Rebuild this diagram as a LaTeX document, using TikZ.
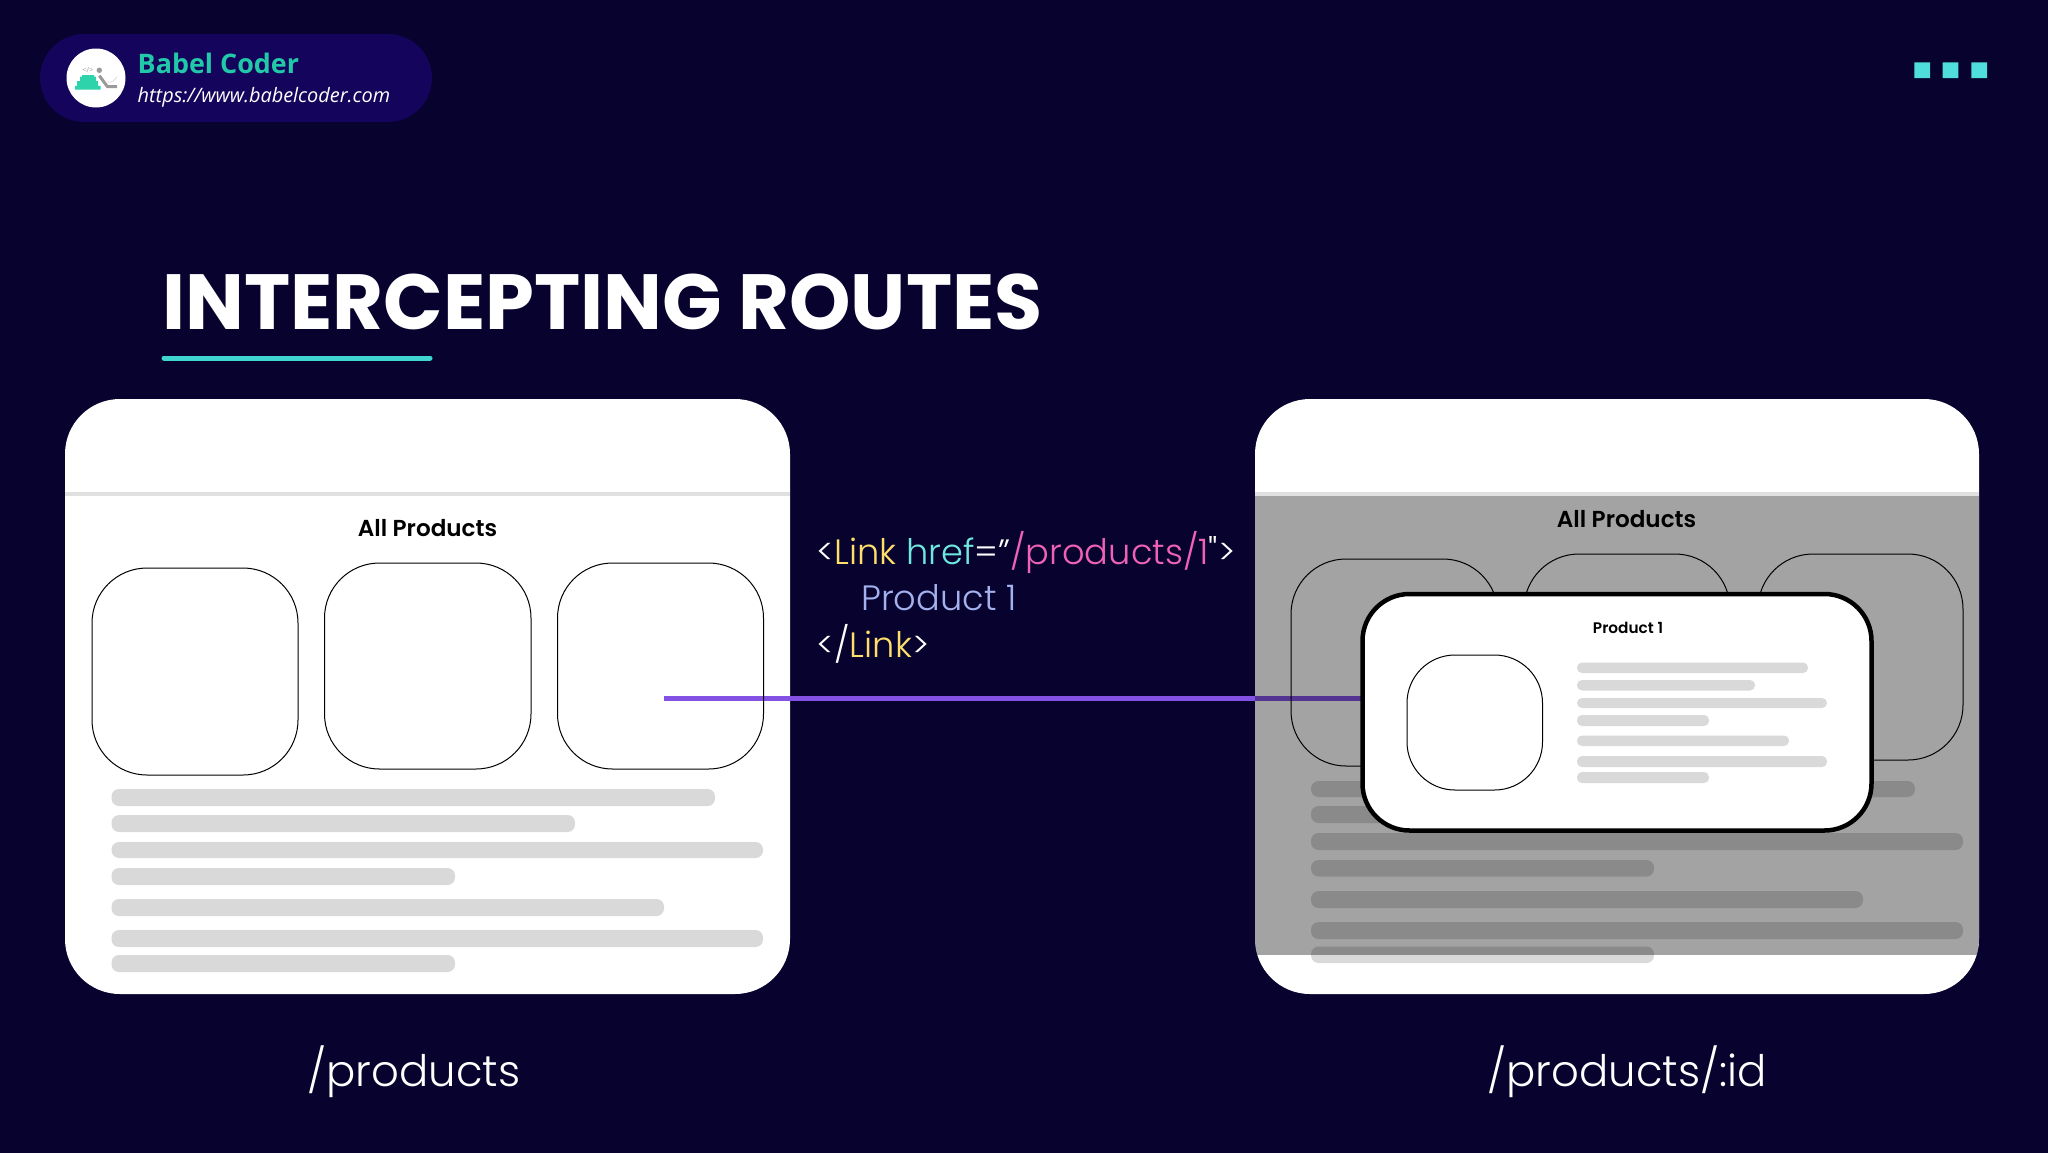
\documentclass[tikz,border=0pt]{standalone}
\usepackage{fontspec}
\setmainfont{Poppins}
\newfontfamily\poplight{Poppins Light}
\newfontfamily\popsemi{Poppins SemiBold}
\newfontfamily\popbold{Poppins}[UprightFont=* Bold]
\newfontfamily\opens{Open Sans}
\definecolor{bgnavy}{HTML}{07022E}
\definecolor{pill}{HTML}{15045B}
\definecolor{teal}{HTML}{3ED6CF}
\definecolor{squarecol}{HTML}{50DEDC}
\definecolor{brand}{HTML}{22C9A8}
\definecolor{logogreen}{HTML}{2ED3AC}
\definecolor{barcol}{HTML}{D9D9D9}
\definecolor{rulecol}{HTML}{E0E0E0}
\definecolor{linkpurple}{HTML}{8352E5}
\definecolor{cyel}{HTML}{FFDF6B}
\definecolor{ccy}{HTML}{6FE9E0}
\definecolor{cpink}{HTML}{F062B8}
\definecolor{cblue}{HTML}{A3B2EE}
\definecolor{logogray}{HTML}{9A9A9A}
\pgfdeclarelayer{back}\pgfdeclarelayer{mid}
\pgfsetlayers{back,mid,main}
\newcommand{\rrnode}[6][]{\node[rr,#1,minimum width={(#5-#3)*1pt},minimum height={(#6-#4)*1pt}] (#2) at ({(#3+#5)/2},{(#4+#6)/2}) {};}
\newcommand{\pbar}[4]{\fill[barcol,rounded corners=7.5] (#1,#3) rectangle (#2,#4);}
\newcommand{\sbar}[4]{\fill[barcol,rounded corners=5] (#1,#3) rectangle (#2,#4);}
\tikzset{
  rr/.style={rectangle,inner sep=0pt,outer sep=0pt},
  panel/.style={fill=white,rounded corners=55},
  card/.style={draw=black,line width=1pt,rounded corners=55},
  modal/.style={draw=black,fill=white,line width=4.5pt,rounded corners=47},
  modalcard/.style={draw=black,line width=1pt,rounded corners=48},
  codetxt/.style={inner sep=0pt,anchor=base west,font=\poplight\fontsize{35.2}{35.2}\selectfont},
  routelabel/.style={inner sep=0pt,anchor=base,text=white,font=\poplight\fontsize{43.4}{43.4}\selectfont},
  heading/.style={inner sep=0pt,anchor=base,text=black,font=\popsemi\fontsize{23.1}{23.1}\selectfont},
}
\begin{document}
\begin{tikzpicture}[x=1pt,y=-1pt]
\useasboundingbox (0,0) rectangle (2048,1152);
\begin{pgfonlayer}{back}
\fill[bgnavy] (-5,-5) rectangle (2053,1157);
\end{pgfonlayer}
% header
\begin{pgfonlayer}{back}
\rrnode[fill=pill,rounded corners=44]{pillbox}{40}{34}{432}{122}
\fill[white] (96,78) circle (29.5);
\fill[logogreen] (75,85.8) rectangle (100.7,89.5) (77,81) rectangle (98,85.5) (80,76.7) rectangle (96,80.8) (82,75) rectangle (94,76.5);
\fill[logogray] (99.3,70.3) circle (2.7);
\draw[logogray,line width=3pt,line join=round] (99.3,75.7) -- (107.5,86.7) -- (117,86.7);
\draw[logogray!50,line width=.5pt] (108,82) .. controls (112,83) and (115,80) .. (117,76.7);
\node[inner sep=0pt,text=logogray] (logocode) at (88,70) {\fontsize{7}{7}\selectfont\opens </>};
\end{pgfonlayer}
\node[inner sep=0pt,anchor=base west,text=brand] (brandname) at (137.5,73) {\opens\bfseries\fontsize{26.9}{26.9}\selectfont Babel Coder};
\node[inner sep=0pt,anchor=base west,text=white] (brandurl) at (137.5,102.3) {\opens\itshape\fontsize{19.9}{19.9}\selectfont https://www.babelcoder.com};
\fill[squarecol] (1914.3,62.3) rectangle (1930,78) (1942.7,62.3) rectangle (1958.3,78) (1971.3,62.3) rectangle (1987,78);
% title
\node[inner sep=0pt,anchor=base west,text=white] (title) at (162,329) {\popbold\fontsize{78.2}{78.2}\selectfont INTERCEPTING ROUTES};
\draw[teal,line width=5pt,line cap=round] (164,358) -- (430,358);
% left panel
\begin{pgfonlayer}{back}
\rrnode[panel]{leftpanel}{65}{399}{790}{994}
\fill[rulecol] (65,491.5) rectangle (790,496);
\pbar{111.5}{715}{789}{806}\pbar{111.5}{575}{815}{832}\pbar{111.5}{763}{842}{858}\pbar{111.5}{455}{868}{885}
\pbar{111.5}{664}{899}{916}\pbar{111.5}{763}{930}{947}\pbar{111.5}{455}{955}{972}
\end{pgfonlayer}
\node[heading] (lefthead) at (427.5,536) {All Products};
\rrnode[card]{lc1}{92}{568}{298}{775}
\rrnode[card]{lc2}{324.5}{563}{531}{769}
\rrnode[card]{lc3}{557.5}{563}{763.5}{769}
% right panel
\begin{pgfonlayer}{back}
\rrnode[panel]{rightpanel}{1255}{399}{1979}{994}
\fill[rulecol] (1255,491.5) rectangle (1979,496);
\pbar{1311}{1915}{781}{797}\pbar{1311}{1775}{806}{823}\pbar{1311}{1963}{833}{850}\pbar{1311}{1654}{860}{876.5}
\pbar{1311}{1863}{891}{908}\pbar{1311}{1963}{922}{939}\pbar{1311}{1654}{946.5}{963}
\end{pgfonlayer}
\node[heading] (righthead) at (1626.5,527) {All Products};
\rrnode[card]{rc1}{1291}{559}{1498}{766}
\rrnode[card]{rc2}{1524}{554}{1730}{760}
\rrnode[card]{rc3}{1758}{554}{1963}{760}
% modal
\rrnode[modal]{modalbox}{1362.5}{594}{1871.5}{830.5}
\node[inner sep=0pt,anchor=base,text=black] (modalhead) at (1628,633) {\popsemi\fontsize{15.3}{15.3}\selectfont Product 1};
\rrnode[modalcard]{mcard}{1407}{655}{1542.5}{790}
\sbar{1577}{1808}{662.5}{673}\sbar{1577}{1755}{680}{690.5}\sbar{1577}{1827}{698}{708}\sbar{1577}{1709}{715}{726}
\sbar{1577}{1789}{735.5}{746}\sbar{1577}{1827}{756}{767}\sbar{1577}{1709}{772}{783}
% connector and dim layer
\coordinate (linkstart) at (664,698.5);
\begin{pgfonlayer}{mid}
\draw[linkpurple,line width=4.5pt] (linkstart) -- (linkstart -| modalbox.west);
\begin{scope}
\clip[rounded corners=55] (1255,399) rectangle (1979,994);
\fill[black,opacity=.36] (1255,496) rectangle (1979,955);
\end{scope}
\end{pgfonlayer}
% code
\node[codetxt,text=white] (code1) at (816.5,564) {<\textcolor{cyel}{Link} \textcolor{ccy}{href}=”\textcolor{cpink}{/products/1}">};
\node[codetxt,text=cblue] (code2) at (861,610.5) {Product 1};
\node[codetxt,text=white] (code3) at (816.5,657) {</\textcolor{cyel}{Link}>};
% route labels
\node[routelabel] (leftroute) at (414,1086) {/products};
\node[routelabel] (rightroute) at (1627,1086) {/products/:id};
\end{tikzpicture}
\end{document}
